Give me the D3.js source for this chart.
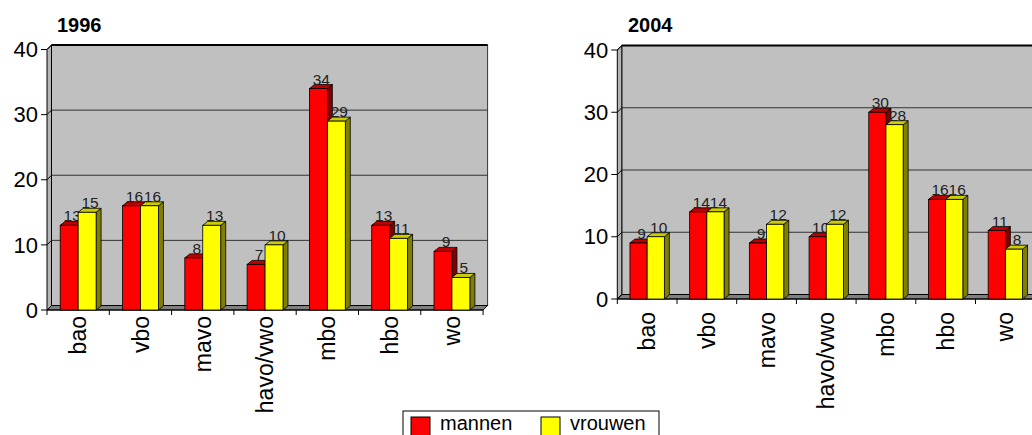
<!DOCTYPE html>
<html><head><meta charset="utf-8">
<script src="https://cdn.jsdelivr.net/npm/d3@7"></script>
<style>body{margin:0;background:#fff;}svg{display:block;font-family:"Liberation Sans",Arial,sans-serif;}</style>
</head><body>
<svg id="c" width="1032" height="435"></svg>
<script>
const categories = ["bao","vbo","mavo","havo/vwo","mbo","hbo","wo"];
const series = ["mannen","vrouwen"];
const mannen1996 = [13,16,8,7,34,13,9];
const vrouwen1996 = [15,16,13,10,29,11,5];
const mannen2004 = [9,14,9,10,30,16,11];
const vrouwen2004 = [10,14,12,12,28,16,8];
const yTicks = [0,10,20,30,40];

const svg = d3.select("#c");
const colors = {
  mannen: {front:"#ff0000", top:"#c00000", side:"#800000"},
  vrouwen:{front:"#ffff00", top:"#cccc00", side:"#808000"}
};

function chart(opt){
  const g = svg.append("g");
  const dx = 4.5, dy = -4.5;
  const x = d3.scaleBand().domain(categories).range([opt.x0, opt.x0 + opt.band*categories.length]).paddingInner(0).paddingOuter(0);
  const y = d3.scaleLinear().domain([0,40]).range([opt.y0, opt.y40]);
  const xl = opt.x0, xr = opt.x0 + opt.band*categories.length;
  // back wall
  g.append("rect").attr("x", xl+dx).attr("y", y(40)+dy).attr("width", xr-xl).attr("height", y(0)-y(40))
    .attr("fill","#c0c0c0").attr("stroke","#333").attr("stroke-width",1);
  g.append("line").attr("x1",xl+dx).attr("x2",xr+dx).attr("y1",y(40)+dy).attr("y2",y(40)+dy).attr("stroke","#000").attr("stroke-width",2);
  // gridlines
  g.selectAll(".grid").data(yTicks.filter(t=>t>0&&t<40)).join("line")
    .attr("x1",xl+dx).attr("x2",xr+dx).attr("y1",d=>y(d)+dy).attr("y2",d=>y(d)+dy)
    .attr("stroke","#333").attr("stroke-width",1);
  // left wall
  g.append("path").attr("d",`M${xl},${y(0)}L${xl},${y(40)}L${xl+dx},${y(40)+dy}L${xl+dx},${y(0)+dy}Z`)
    .attr("fill","#b4b4b4").attr("stroke","#000").attr("stroke-width",1);
  // floor
  g.append("path").attr("d",`M${xl},${y(0)}L${xr},${y(0)}L${xr+dx},${y(0)+dy}L${xl+dx},${y(0)+dy}Z`)
    .attr("fill","#808080").attr("stroke","#000").attr("stroke-width",1);
  // y ticks
  const yt = g.selectAll(".yt").data(yTicks).join("g");
  yt.append("path").attr("d",d=>`M${xl-6},${y(d)}L${xl},${y(d)}L${xl+dx},${y(d)+dy}`).attr("fill","none").attr("stroke","#000");
  yt.append("text").attr("x",xl-9).attr("y",d=>y(d)).attr("dy","0.35em").attr("text-anchor","end")
    .attr("font-size",22).attr("fill","#000").text(d=>d);
  // x ticks
  const bounds = categories.map(c=>x(c)).concat([xr]);
  g.selectAll(".xt").data(bounds).join("line").attr("x1",d=>d).attr("x2",d=>d).attr("y1",y(0)).attr("y2",y(0)+5).attr("stroke","#000");
  g.append("line").attr("x1",xl).attr("x2",xr).attr("y1",y(0)).attr("y2",y(0)).attr("stroke","#000");
  // bars
  const bw = opt.band*0.288;
  const bdx = 5, bdy = -4;
  const vals = {mannen: opt.m, vrouwen: opt.v};
  series.forEach((s,si)=>{
    const c = colors[s];
    const data = categories.map((cat,i)=>({cat, v: vals[s][i]}));
    const bg = g.selectAll(".b"+s).data(data).join("g");
    const bx = d => x(d.cat) + opt.band/2 - bw + si*bw;
    bg.append("path").attr("d",d=>`M${bx(d)+bw},${y(d.v)}L${bx(d)+bw+bdx},${y(d.v)+bdy}L${bx(d)+bw+bdx},${y(0)+bdy}L${bx(d)+bw},${y(0)}Z`)
      .attr("fill",c.side).attr("stroke","#000").attr("stroke-width",0.8).attr("stroke-linejoin","round");
    bg.append("path").attr("d",d=>`M${bx(d)},${y(d.v)}L${bx(d)+bdx},${y(d.v)+bdy}L${bx(d)+bw+bdx},${y(d.v)+bdy}L${bx(d)+bw},${y(d.v)}Z`)
      .attr("fill",c.top).attr("stroke","#000").attr("stroke-width",0.8).attr("stroke-linejoin","round");
    bg.append("rect").attr("x",bx).attr("y",d=>y(d.v)).attr("width",bw).attr("height",d=>y(0)-y(d.v))
      .attr("fill",c.front).attr("stroke","#000").attr("stroke-width",0.8);
    bg.append("text").attr("x",d=>bx(d)+bw/2+3).attr("y",d=>y(d.v)-4).attr("text-anchor","middle")
      .attr("font-size",15.5).attr("fill","#222").text(d=>d.v);
  });
  // category labels
  g.selectAll(".cl").data(categories).join("text")
    .attr("transform",d=>`translate(${x(d)+opt.band/2},${opt.labelY}) rotate(-90)`)
    .attr("text-anchor","end").attr("dy","0.35em").attr("font-size",23).attr("fill","#000").text(d=>d);
  // title
  g.append("text").attr("x",opt.titleX).attr("y",32).attr("font-size",20).attr("font-weight","bold").attr("fill","#000").text(opt.title);
}

chart({x0:47, y0:310, y40:49.5, band:62.3, m:mannen1996, v:vrouwen1996, title:"1996", titleX:57, labelY:316});
chart({x0:617.3, y0:299, y40:50, band:59.7, m:mannen2004, v:vrouwen2004, title:"2004", titleX:628, labelY:312});

// legend
const lg = svg.append("g");
lg.append("rect").attr("x",403).attr("y",411).attr("width",256).attr("height",32).attr("fill","#fff").attr("stroke","#000");
const li = lg.selectAll(".li").data(series).join("g").attr("transform",(d,i)=>`translate(${i===0?411:541},417)`);
li.append("rect").attr("width",19).attr("height",19).attr("fill",d=>colors[d].front).attr("stroke","#000");
li.append("text").attr("x",29).attr("y",13).attr("font-size",20).attr("fill","#000").text(d=>d);
</script>
</body></html>
